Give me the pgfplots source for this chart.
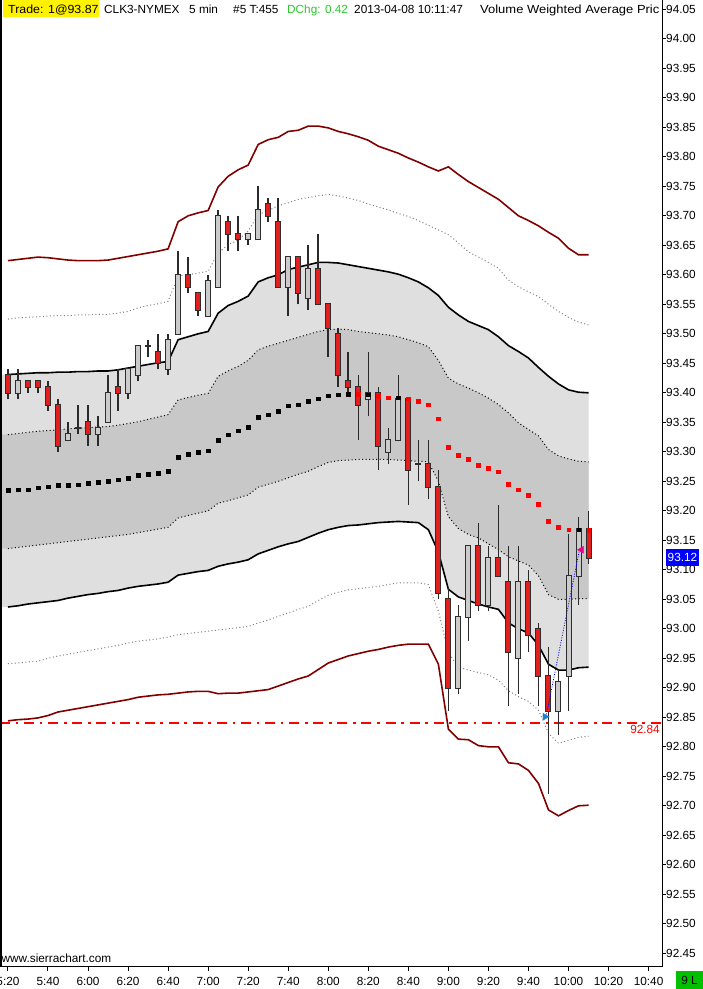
\documentclass[border=0pt]{standalone}
\usepackage{pgfplots}
\pgfplotsset{compat=1.18}
\usepackage{pgfplotstable}
\usepgfplotslibrary{fillbetween}
\usepackage{fontspec}
\setmainfont{Liberation Sans}
\newcommand\cf{\fontsize{11.8}{13}\selectfont}
\definecolor{darkred}{HTML}{800000}
\definecolor{lightfill}{HTML}{DFDFDF}
\definecolor{darkfill}{HTML}{C8C8C8}
\definecolor{candlered}{HTML}{E21F1F}
\definecolor{candlegray}{HTML}{CBCBCB}
\definecolor{edgec}{HTML}{2E2E2E}
\definecolor{wickc}{HTML}{2A2A2A}
\definecolor{dotred}{HTML}{FF0000}
\definecolor{tradeblue}{HTML}{1E7FD0}
\definecolor{chggreen}{HTML}{2BC82B}
\definecolor{boxgreen}{HTML}{00C000}

\pgfplotstableread{
i O H L C
0 93.43 93.44 93.39 93.40
2 93.42 93.42 93.40 93.41
3 93.42 93.42 93.40 93.41
4 93.41 93.42 93.37 93.38
5 93.38 93.39 93.30 93.31
8 93.35 93.38 93.31 93.33
11 93.41 93.44 93.37 93.40
15 93.47 93.50 93.44 93.45
18 93.60 93.63 93.57 93.58
19 93.57 93.57 93.53 93.54
22 93.69 93.70 93.64 93.67
23 93.67 93.70 93.64 93.66
26 93.72 93.73 93.69 93.70
27 93.69 93.73 93.58 93.58
29 93.63 93.63 93.55 93.57
31 93.61 93.67 93.55 93.55
32 93.55 93.55 93.46 93.51
33 93.50 93.51 93.41 93.43
34 93.42 93.47 93.40 93.41
35 93.41 93.43 93.32 93.38
37 93.40 93.41 93.27 93.31
40 93.39 93.39 93.21 93.27
42 93.28 93.32 93.22 93.24
43 93.24 93.27 93.05 93.06
44 93.05 93.07 92.86 92.90
47 93.14 93.18 93.03 93.04
49 93.12 93.21 93.09 93.09
50 93.08 93.14 92.87 92.96
52 93.08 93.10 92.96 92.99
53 93.00 93.01 92.87 92.92
54 92.92 92.97 92.72 92.86
58 93.17 93.20 93.11 93.12
}\redc

\pgfplotstableread{
i O H L C
1 93.40 93.44 93.39 93.42
6 93.32 93.35 93.32 93.33
7 93.34 93.38 93.33 93.34
9 93.33 93.36 93.31 93.34
10 93.35 93.43 93.35 93.40
12 93.40 93.44 93.39 93.44
13 93.43 93.48 93.42 93.48
14 93.48 93.49 93.46 93.48
16 93.44 93.50 93.43 93.49
17 93.50 93.64 93.50 93.60
20 93.53 93.60 93.53 93.59
21 93.58 93.71 93.58 93.70
24 93.66 93.67 93.65 93.67
25 93.66 93.75 93.66 93.71
28 93.58 93.63 93.53 93.63
30 93.56 93.65 93.54 93.61
36 93.39 93.47 93.36 93.40
38 93.30 93.34 93.28 93.32
39 93.32 93.43 93.32 93.39
41 93.28 93.32 93.25 93.28
45 92.90 93.04 92.89 93.02
46 93.02 93.14 92.98 93.14
48 93.04 93.14 93.03 93.12
51 92.95 93.14 92.89 93.08
55 92.86 92.93 92.82 92.91
56 92.92 93.16 92.86 93.09
57 93.09 93.19 93.04 93.17
}\grayc

\pgfplotstableread{
i UR UG UB UD LD LB LG LR
-0.8 93.624 93.525 93.431 93.329 93.136 93.037 92.941 92.844
0 93.624 93.525 93.431 93.329 93.136 93.037 92.941 92.844
1 93.626 93.527 93.432 93.331 93.138 93.039 92.942 92.846
2 93.628 93.528 93.433 93.333 93.140 93.042 92.944 92.847
3 93.630 93.529 93.434 93.335 93.142 93.044 92.945 92.849
4 93.629 93.530 93.434 93.336 93.144 93.046 92.950 92.853
5 93.627 93.531 93.435 93.337 93.146 93.048 92.954 92.859
6 93.625 93.531 93.435 93.339 93.148 93.052 92.957 92.862
7 93.624 93.532 93.436 93.340 93.150 93.055 92.960 92.865
8 93.624 93.532 93.436 93.341 93.152 93.058 92.963 92.868
9 93.624 93.533 93.437 93.342 93.154 93.060 92.966 92.871
10 93.625 93.533 93.437 93.343 93.156 93.063 92.969 92.874
11 93.628 93.535 93.439 93.345 93.158 93.065 92.972 92.877
12 93.631 93.538 93.442 93.348 93.160 93.069 92.976 92.880
13 93.634 93.544 93.445 93.351 93.163 93.072 92.979 92.884
14 93.637 93.548 93.448 93.355 93.166 93.074 92.981 92.886
15 93.640 93.551 93.451 93.359 93.169 93.076 92.983 92.888
16 93.644 93.555 93.453 93.363 93.172 93.079 92.986 92.889
17 93.690 93.598 93.490 93.388 93.188 93.091 92.990 92.891
18 93.700 93.600 93.495 93.392 93.192 93.094 92.992 92.893
19 93.705 93.603 93.500 93.396 93.196 93.097 92.994 92.894
20 93.709 93.606 93.504 93.399 93.200 93.099 92.996 92.894
21 93.749 93.637 93.535 93.428 93.213 93.106 92.998 92.890
22 93.767 93.651 93.548 93.437 93.217 93.110 93.000 92.891
23 93.778 93.659 93.555 93.445 93.222 93.113 93.002 92.891
24 93.786 93.674 93.564 93.455 93.227 93.117 93.004 92.893
25 93.821 93.702 93.588 93.473 93.240 93.127 93.010 92.895
26 93.829 93.709 93.595 93.479 93.245 93.133 93.015 92.897
27 93.833 93.717 93.600 93.484 93.250 93.139 93.021 92.903
28 93.843 93.722 93.609 93.489 93.256 93.144 93.027 92.909
29 93.845 93.728 93.613 93.494 93.262 93.148 93.033 92.915
30 93.852 93.731 93.617 93.499 93.267 93.155 93.038 92.920
31 93.852 93.734 93.621 93.504 93.275 93.162 93.048 92.931
32 93.849 93.736 93.621 93.507 93.282 93.168 93.057 92.942
33 93.843 93.734 93.620 93.508 93.285 93.172 93.062 92.948
34 93.839 93.730 93.617 93.507 93.286 93.175 93.066 92.954
35 93.834 93.726 93.614 93.504 93.287 93.176 93.068 92.958
36 93.828 93.720 93.611 93.502 93.287 93.178 93.070 92.962
37 93.818 93.715 93.608 93.500 93.287 93.180 93.072 92.965
38 93.812 93.710 93.605 93.498 93.287 93.181 93.075 92.969
39 93.806 93.704 93.601 93.495 93.286 93.182 93.078 92.972
40 93.798 93.699 93.595 93.490 93.285 93.181 93.078 92.974
41 93.791 93.692 93.588 93.485 93.284 93.180 93.078 92.974
42 93.783 93.684 93.578 93.478 93.283 93.168 93.075 92.974
43 93.776 93.676 93.565 93.455 93.250 93.130 93.030 92.940
44 93.783 93.668 93.545 93.425 93.190 93.067 92.960 92.830
45 93.770 93.654 93.532 93.415 93.170 93.054 92.935 92.813
46 93.758 93.639 93.521 93.408 93.160 93.048 92.930 92.812
47 93.748 93.630 93.514 93.400 93.154 93.042 92.926 92.802
48 93.738 93.621 93.507 93.391 93.144 93.037 92.922 92.800
49 93.728 93.611 93.495 93.380 93.134 93.033 92.913 92.800
50 93.714 93.591 93.480 93.366 93.122 93.010 92.895 92.773
51 93.700 93.580 93.470 93.349 93.115 93.000 92.885 92.771
52 93.692 93.571 93.459 93.338 93.108 92.993 92.877 92.760
53 93.683 93.563 93.443 93.327 93.090 92.972 92.862 92.738
54 93.672 93.550 93.428 93.304 93.058 92.940 92.823 92.693
55 93.662 93.538 93.415 93.293 93.050 92.930 92.806 92.683
56 93.645 93.528 93.405 93.288 93.050 92.930 92.811 92.692
57 93.634 93.520 93.401 93.284 93.051 92.934 92.816 92.700
58 93.634 93.515 93.400 93.283 93.051 92.935 92.818 92.701
}\bands

\pgfplotstableread{
i v
0 93.235
1 93.236
2 93.236
3 93.239
4 93.241
5 93.243
6 93.243
7 93.244
8 93.247
9 93.248
10 93.250
11 93.253
12 93.255
13 93.260
14 93.262
15 93.264
16 93.267
17 93.291
18 93.296
19 93.299
20 93.302
21 93.320
22 93.329
23 93.336
24 93.342
25 93.359
26 93.363
27 93.369
28 93.378
29 93.380
30 93.386
31 93.390
32 93.395
33 93.397
34 93.398
36 93.397
39 93.392
57 93.168
}\vwapblack

\pgfplotstableread{
i v
35 93.398
37 93.394
38 93.392
40 93.390
41 93.386
42 93.380
43 93.356
44 93.308
45 93.294
46 93.287
47 93.277
48 93.272
49 93.266
50 93.245
51 93.236
52 93.226
53 93.211
54 93.182
55 93.172
56 93.168
58 93.167
}\vwapred

\pgfplotsset{
  candle/.style={only marks, mark size=0pt, mark options={draw=none, fill=none},
    error bars/.cd, y dir=plus, y explicit, error mark=none},
}

\begin{document}
\begin{tikzpicture}
\begin{axis}[
  at={(0pt,22.3pt)}, anchor=south west,
  scale only axis, width=662pt, height=966.7pt,
  xmin=-0.795, xmax=65.34, ymin=92.4273, ymax=94.0658,
  axis x line*=bottom, axis y line*=right,
  axis line style={line width=1pt, black},
  tick align=outside, major tick length=4pt,
  tick style={black, line width=1pt},
  xtick={0,4,...,64},
  xticklabels={5:20,5:40,6:00,6:20,6:40,7:00,7:20,7:40,8:00,8:20,8:40,9:00,9:20,9:40,10:00,10:20,10:40},
  ytick={92.45,92.5,92.55,92.6,92.65,92.7,92.75,92.8,92.85,92.9,92.95,93,93.05,93.1,93.15,93.2,93.25,93.3,93.35,93.4,93.45,93.5,93.55,93.6,93.65,93.7,93.75,93.8,93.85,93.9,93.95,94,94.05},
  yticklabel={\pgfmathprintnumber[fixed,fixed zerofill,precision=2]{\tick}},
  /pgf/number format/assume math mode=true,
  ticklabel style={font=\cf},
  yticklabel style={anchor=west, inner sep=0pt},
  xticklabel style={anchor=north, inner sep=0pt, yshift=-6pt},
]
% fills
\addplot[draw=none, name path=ub, forget plot] table[x=i,y=UB]{\bands};
\addplot[draw=none, name path=lb, forget plot] table[x=i,y=LB]{\bands};
\addplot[draw=none, name path=ud, forget plot] table[x=i,y=UD]{\bands};
\addplot[draw=none, name path=ld, forget plot] table[x=i,y=LD]{\bands};
\addplot[fill=lightfill, draw=none] fill between[of=ub and lb];
\addplot[fill=darkfill, draw=none] fill between[of=ud and ld];
% band lines
\addplot[darkred, line width=1.6pt, restrict x to domain=0:58] table[x=i,y=UR]{\bands};
\addplot[darkred, line width=1.6pt, restrict x to domain=0:58] table[x=i,y=LR]{\bands};
\addplot[gray, line width=1pt, dash pattern=on 1pt off 2.5pt, restrict x to domain=0:58] table[x=i,y=UG]{\bands};
\addplot[gray, line width=1pt, dash pattern=on 1pt off 2.5pt, restrict x to domain=0:58] table[x=i,y=LG]{\bands};
\addplot[black, line width=1pt, dash pattern=on 1pt off 2.5pt, restrict x to domain=0:58] table[x=i,y=UD]{\bands};
\addplot[black, line width=1pt, dash pattern=on 1pt off 2.5pt, restrict x to domain=0:58] table[x=i,y=LD]{\bands};
\addplot[black, line width=1.6pt, restrict x to domain=0:58] table[x=i,y=UB]{\bands};
\addplot[black, line width=1.6pt, restrict x to domain=0:58] table[x=i,y=LB]{\bands};
% level line
\addplot[draw=dotred, color=dotred, line width=1.5pt, dash pattern=on 10pt off 5.7pt on 2.7pt off 5.7pt] coordinates {(-0.8,92.84) (65.34,92.84)};
% wicks
\addplot[candle, error bar style={draw=wickc, line width=1.6pt}]
  table[x=i, y=L, y error plus expr=\thisrow{H}-\thisrow{L}]{\redc};
\addplot[candle, error bar style={draw=wickc, line width=1.6pt}]
  table[x=i, y=L, y error plus expr=\thisrow{H}-\thisrow{L}]{\grayc};
% bodies
\addplot[candle, error bar style={draw=edgec, line width=6pt}]
  table[x=i, y expr={min(\thisrow{O},\thisrow{C})-0.0017}, y error plus expr={abs(\thisrow{C}-\thisrow{O})+0.0034}]{\redc};
\addplot[candle, error bar style={draw=candlered, line width=4pt}]
  table[x=i, y expr={min(\thisrow{O},\thisrow{C})}, y error plus expr={abs(\thisrow{C}-\thisrow{O})}]{\redc};
\addplot[candle, error bar style={draw=edgec, line width=6pt}]
  table[x=i, y expr={min(\thisrow{O},\thisrow{C})-0.0017}, y error plus expr={abs(\thisrow{C}-\thisrow{O})+0.0034}]{\grayc};
\addplot[candle, error bar style={draw=candlegray, line width=4pt}]
  table[x=i, y expr={min(\thisrow{O},\thisrow{C})}, y error plus expr={abs(\thisrow{C}-\thisrow{O})}]{\grayc};
% VWAP dots
\addplot[only marks, mark=square*, mark size=1.8pt, mark options={draw=black, fill=black}] table[x=i,y=v]{\vwapblack};
\addplot[only marks, mark=square*, mark size=1.8pt, mark options={draw=dotred, fill=dotred}] table[x=i,y=v]{\vwapred};
% trade markers
\addplot[blue, line width=0.8pt, dash pattern=on 1pt off 1.5pt] coordinates {(53.8,92.855) (57.1,93.134)};
\addplot[only marks, mark=triangle*, mark size=4pt, mark options={rotate=-90, fill=tradeblue, draw=tradeblue}] coordinates {(53.65,92.851)};
\addplot[only marks, mark=triangle*, mark size=4pt, mark options={rotate=90, fill=magenta, draw=magenta}] coordinates {(57.3,93.134)};
\end{axis}
% left frame line
\draw[black, line width=1.5pt] (0.75pt,22.3pt) -- (0.75pt,989pt);
% header
\fill[yellow] (3.3pt,972pt) rectangle (99.3pt,989pt);
\node[anchor=base west, inner sep=0pt, font=\cf] at (8pt,975pt) {\scalebox{1.05}[1]{Trade: 1@93.87}};
\node[anchor=base west, inner sep=0pt, font=\cf] at (104pt,975pt) {CLK3-NYMEX};
\node[anchor=base west, inner sep=0pt, font=\cf] at (189pt,975pt) {5 min};
\node[anchor=base west, inner sep=0pt, font=\cf] at (233pt,975pt) {\#5 T:455};
\node[anchor=base west, inner sep=0pt, font=\cf, text=chggreen] at (287pt,975pt) {DChg: 0.42};
\node[anchor=base west, inner sep=0pt, font=\cf] at (354pt,975pt) {2013-04-08 10:11:47};
\node[anchor=base west, inner sep=0pt, font=\cf] at (480pt,975pt) {\scalebox{1.1}[1]{Volume Weighted Average Pric}};
% level label
\node[anchor=north east, inner sep=0pt, font=\cf, text=dotred] at (660pt,264pt) {92.84};
% last price label
\fill[blue] (666pt,423.3pt) rectangle (699pt,439.7pt);
\node[inner sep=0pt, font=\cf, text=white] at (682.5pt,431.5pt) {93.12};
% watermark
\node[anchor=base west, inner sep=0pt, font=\cf] at (1.5pt,27pt) {www.sierrachart.com};
% bottom-right box
\fill[boxgreen] (676pt,0pt) rectangle (703pt,18pt);
\node[inner sep=0pt, font=\cf] at (689.5pt,9pt) {9 L};
\pgfresetboundingbox
\path[use as bounding box] (0pt,0pt) rectangle (703pt,989pt);
\end{tikzpicture}
\end{document}
